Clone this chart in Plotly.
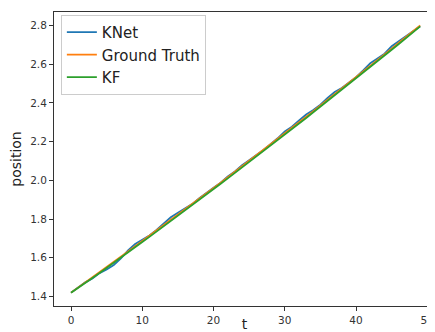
import plotly.graph_objects as go

t = list(range(50))

ground_truth = [1.420, 1.446, 1.473, 1.499, 1.525, 1.552, 1.579, 1.605, 1.632, 1.659,
                1.686, 1.713, 1.740, 1.767, 1.795, 1.822, 1.849, 1.877, 1.905, 1.932,
                1.960, 1.988, 2.016, 2.044, 2.072, 2.100, 2.128, 2.157, 2.185, 2.213,
                2.242, 2.271, 2.299, 2.328, 2.357, 2.386, 2.415, 2.444, 2.473, 2.503,
                2.532, 2.561, 2.591, 2.621, 2.650, 2.680, 2.710, 2.740, 2.770, 2.800]

knet = [1.420, 1.448, 1.473, 1.493, 1.521, 1.540, 1.563, 1.597, 1.638, 1.671,
        1.692, 1.715, 1.744, 1.777, 1.809, 1.832, 1.853, 1.877, 1.907, 1.936,
        1.962, 1.988, 2.020, 2.046, 2.078, 2.104, 2.130, 2.157, 2.187, 2.217,
        2.252, 2.277, 2.309, 2.340, 2.363, 2.390, 2.425, 2.456, 2.477, 2.505,
        2.532, 2.567, 2.605, 2.629, 2.654, 2.692, 2.718, 2.744, 2.772, 2.796]

kf = [1.420, 1.444, 1.469, 1.495, 1.521, 1.547, 1.574, 1.600, 1.627, 1.654,
      1.681, 1.708, 1.735, 1.762, 1.789, 1.816, 1.844, 1.871, 1.899, 1.926,
      1.954, 1.982, 2.010, 2.038, 2.066, 2.094, 2.122, 2.151, 2.179, 2.207,
      2.236, 2.265, 2.293, 2.322, 2.351, 2.380, 2.409, 2.438, 2.467, 2.497,
      2.526, 2.555, 2.585, 2.615, 2.644, 2.674, 2.704, 2.734, 2.764, 2.795]

series = [("KNet", knet, "#1f77b4"), ("Ground Truth", ground_truth, "#ff7f0e"), ("KF", kf, "#2ca02c")]

fig = go.Figure()
for name, vals, color in series:
    fig.add_trace(go.Scatter(x=t, y=vals, mode="lines", name=name,
                             line=dict(color=color, width=1.8)))

axis_common = dict(showgrid=False, zeroline=False, showline=True, linecolor="#333333",
                   linewidth=1, ticks="outside", ticklen=4, tickcolor="#333333",
                   automargin=False, ticklabeloverflow="allow",
                   tickfont=dict(family="DejaVu Sans", size=10.5, color="#333333"))

# page body has an 8px default margin, so the figure is offset by (8, 8);
# the plot area runs to the right edge of the window
fig.update_layout(
    width=435, height=324,
    margin=dict(l=46, r=8, t=4, b=26),
    paper_bgcolor="white", plot_bgcolor="white",
    font=dict(family="DejaVu Sans", color="#222222"),
    xaxis=dict(**axis_common, range=[-2.39, 51.08], tickvals=[0, 10, 20, 30, 40, 50],
               mirror=True,
               title=dict(text="t", font=dict(size=14, color="#222222"), standoff=3)),
    yaxis=dict(**axis_common, range=[1.351, 2.869],
               tickvals=[1.4, 1.6, 1.8, 2.0, 2.2, 2.4, 2.6, 2.8], tickformat=".1f",
               title=dict(text="position", font=dict(size=14, color="#222222"), standoff=6)),
    legend=dict(x=0.018, y=0.99, xanchor="left", yanchor="top",
                bgcolor="rgba(255,255,255,0.85)", bordercolor="#cccccc", borderwidth=1,
                font=dict(family="DejaVu Sans", size=15, color="#222222"),
                tracegroupgap=0),
    showlegend=True,
)

fig.write_html("out.html")
